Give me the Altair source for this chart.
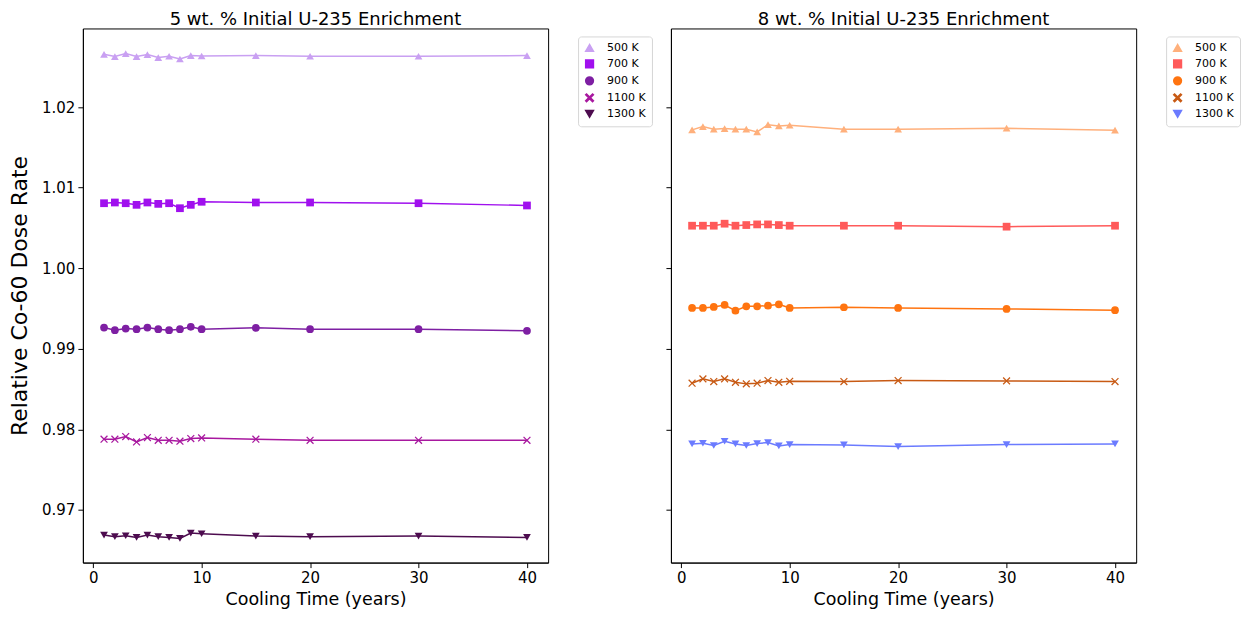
import math
import altair as alt
import pandas as pd

years = [1, 2, 3, 4, 5, 6, 7, 8, 9, 10, 15, 20, 30, 40]
temps = ["500 K", "700 K", "900 K", "1100 K", "1300 K"]

# 5 wt.% enrichment
e5_500 = [1.02654, 1.02626, 1.02663, 1.02626, 1.02651, 1.02614, 1.02630, 1.02596, 1.02638, 1.02633, 1.02638, 1.02630, 1.02630, 1.02638]
e5_700 = [1.00806, 1.00815, 1.00806, 1.00786, 1.00815, 1.00798, 1.00806, 1.00744, 1.00786, 1.00824, 1.00815, 1.00815, 1.00806, 1.00778]
e5_900 = [0.99263, 0.99231, 0.99251, 0.99243, 0.99263, 0.99243, 0.99231, 0.99243, 0.99272, 0.99243, 0.99259, 0.99243, 0.99243, 0.99222]
e5_1100 = [0.97877, 0.97877, 0.97910, 0.97843, 0.97898, 0.97864, 0.97864, 0.97852, 0.97885, 0.97893, 0.97877, 0.97864, 0.97864, 0.97864]
e5_1300 = [0.96688, 0.96667, 0.96679, 0.96658, 0.96688, 0.96667, 0.96658, 0.96646, 0.96712, 0.96704, 0.96675, 0.96667, 0.96675, 0.96658]

# 8 wt.% enrichment
e8_500 = [1.01716, 1.01757, 1.01725, 1.01732, 1.01725, 1.01725, 1.01691, 1.01781, 1.01765, 1.01774, 1.01725, 1.01725, 1.01737, 1.01712]
e8_700 = [1.00527, 1.00527, 1.00527, 1.00552, 1.00527, 1.00535, 1.00543, 1.00543, 1.00535, 1.00527, 1.00527, 1.00527, 1.00515, 1.00527]
e8_900 = [0.99506, 0.99506, 0.99519, 0.99543, 0.99473, 0.99527, 0.99527, 0.99535, 0.99552, 0.99506, 0.99515, 0.99506, 0.99494, 0.99478]
e8_1100 = [0.98572, 0.98626, 0.98593, 0.98626, 0.98584, 0.98564, 0.98572, 0.98605, 0.98584, 0.98596, 0.98593, 0.98605, 0.98601, 0.98593]
e8_1300 = [0.97819, 0.97827, 0.97799, 0.97852, 0.97819, 0.97799, 0.97823, 0.97836, 0.97794, 0.97811, 0.97806, 0.97786, 0.97811, 0.97819]

colors5 = ["#c9a0f2", "#a010ee", "#7e1fa3", "#a8189f", "#4d0c4f"]
colors8 = ["#ffb07c", "#ff5a5a", "#ff7410", "#c85a14", "#6b7bff"]


def x_marker_path(w=0.13):
    # filled "x" marker: a plus-shaped polygon rotated by 45 degrees
    pts = [(-w, -1), (w, -1), (w, -w), (1, -w), (1, w), (w, w),
           (w, 1), (-w, 1), (-w, w), (-1, w), (-1, -w), (-w, -w)]
    c = math.cos(math.pi / 4)
    rot = [((x - y) * c, (x + y) * c) for x, y in pts]
    s = max(max(abs(a), abs(b)) for a, b in rot)
    rot = [(a / s, b / s) for a, b in rot]
    return "M" + "L".join(f"{a:.3f},{b:.3f}" for a, b in rot) + "Z"


shapes = ["triangle-up", "square", "circle", x_marker_path(), "triangle-down"]


def make_df(series):
    rows = []
    for t, vals in zip(temps, series):
        for x, v in zip(years, vals):
            rows.append({"year": x, "rate": v, "temp": t})
    return pd.DataFrame(rows)


df5 = make_df([e5_500, e5_700, e5_900, e5_1100, e5_1300])
df8 = make_df([e8_500, e8_700, e8_900, e8_1100, e8_1300])

ydom = [0.96346, 1.02975]
xdom = [-0.95, 41.95]


def panel(df, title, colors, show_y):
    x = alt.X("year:Q", scale=alt.Scale(domain=xdom, nice=False, zero=False),
              axis=alt.Axis(values=[0, 10, 20, 30, 40], title="Cooling Time (years)", format="d"))
    if show_y:
        yaxis = alt.Axis(values=[0.97, 0.98, 0.99, 1.00, 1.01, 1.02], format=".2f",
                         title="Relative Co-60 Dose Rate", titleFontSize=22, titlePadding=10)
    else:
        yaxis = alt.Axis(values=[0.97, 0.98, 0.99, 1.00, 1.01, 1.02], labels=False, title=None)
    y = alt.Y("rate:Q", scale=alt.Scale(domain=ydom, nice=False, zero=False), axis=yaxis)
    leg = alt.Legend(title=None, orient="none", legendX=496, legendY=8)
    cscale = alt.Scale(domain=temps, range=colors)
    base = alt.Chart(df).encode(x=x, y=y)
    line = base.mark_line(strokeWidth=1.5).encode(
        color=alt.Color("temp:N", scale=cscale, legend=leg))
    pts = base.mark_point(filled=True, size=60, opacity=1).encode(
        color=alt.Color("temp:N", scale=cscale, legend=leg),
        shape=alt.Shape("temp:N", scale=alt.Scale(domain=temps, range=shapes), legend=leg),
    )
    return alt.layer(line, pts).properties(
        width=466, height=535,
        title=alt.TitleParams(title, fontSize=18, fontWeight="normal", offset=-1))


left = panel(df5, "5 wt. % Initial U-235 Enrichment", colors5, True)
right = panel(df8, "8 wt. % Initial U-235 Enrichment", colors8, False)

chart = alt.hconcat(left, right, spacing=12).resolve_scale(
    color="independent", shape="independent"
).resolve_legend(color="independent", shape="independent").properties(
    padding={"top": 2, "left": 0, "right": 0, "bottom": 0}
).configure_view(
    stroke="black", strokeWidth=1
).configure_axis(
    grid=False, domainColor="black", tickColor="black", labelColor="black", titleColor="black",
    labelFontSize=15, titleFontSize=17.5, labelFont="DejaVu Sans", titleFont="DejaVu Sans",
    titleFontWeight="normal", tickSize=5, labelPadding=3, titlePadding=5
).configure_legend(
    labelFontSize=11, labelFont="DejaVu Sans", strokeColor="#d6d6d6", fillColor="white",
    padding=6, cornerRadius=3, rowPadding=2, symbolSize=60, symbolStrokeWidth=1.5,
    labelOffset=12
).configure_title(font="DejaVu Sans", color="black")

chart.save("out.html", embed_options={"renderer": "svg", "actions": False})
